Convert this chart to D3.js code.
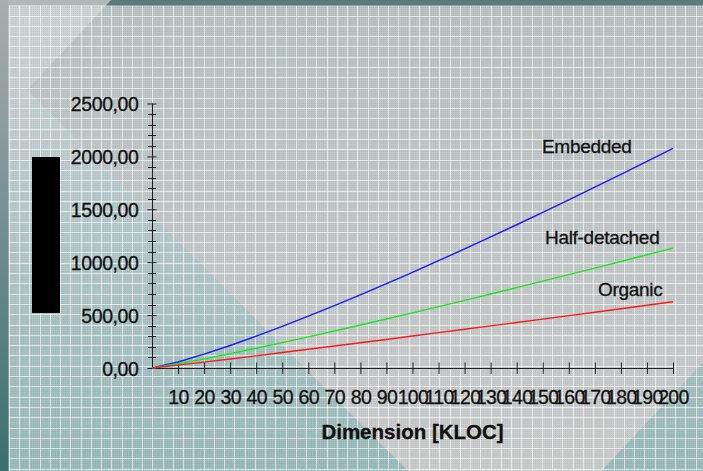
<!DOCTYPE html>
<html>
<head>
<meta charset="utf-8">
<script src="https://cdn.jsdelivr.net/npm/d3@7"></script>
<style>
  html, body { margin: 0; padding: 0; background: #c4caca; }
  svg { display: block; }
  text { font-family: Arial, "Liberation Sans", sans-serif; fill: #111; stroke: #111; stroke-width: 0.3px; }
</style>
</head>
<body>
<svg id="chart" width="703" height="471"></svg>
<script>
// Effort by project size (KLOC) for the three development modes
const kloc = [0, 10, 20, 30, 40, 50, 60, 70, 80, 90, 100, 110, 120, 130, 140, 150, 160, 170, 180, 190, 200];
const organic = [0, 27, 56, 85, 115, 146, 177, 208, 239, 270, 302, 334, 366, 398, 430, 462, 495, 527, 560, 593, 626];
const halfDetached = [0, 40, 86, 135, 187, 240, 294, 350, 406, 463, 521, 580, 639, 699, 760, 821, 882, 944, 1007, 1070, 1133];
const embedded = [0, 57, 131, 213, 301, 394, 490, 589, 692, 797, 904, 1014, 1125, 1239, 1354, 1471, 1589, 1709, 1831, 1953, 2077];

const seriesNames = ["Embedded", "Half-detached", "Organic"];
const seriesValues = [embedded, halfDetached, organic];
const seriesColors = ["#1a1aff", "#1ee61e", "#ff1a1a"];

const xTickValues = [10, 20, 30, 40, 50, 60, 70, 80, 90, 100, 110, 120, 130, 140, 150, 160, 170, 180, 190, 200];
const yTickValues = [0, 500, 1000, 1500, 2000, 2500];
const yMinorStep = 100;
const xTitle = "Dimension [KLOC]";

const W = 703, H = 471;
const svg = d3.select("#chart");
const defs = svg.append("defs");

// ---------- backdrop ----------
const outerGrad = defs.append("linearGradient").attr("id", "outerGrad")
  .attr("x1", 0).attr("y1", 0).attr("x2", 0).attr("y2", 1);
outerGrad.append("stop").attr("offset", "0%").attr("stop-color", "#ced4d4");
outerGrad.append("stop").attr("offset", "45%").attr("stop-color", "#b6c8c8");
outerGrad.append("stop").attr("offset", "100%").attr("stop-color", "#98bab8");

const innerGrad = defs.append("linearGradient").attr("id", "innerGrad")
  .attr("gradientUnits", "userSpaceOnUse")
  .attr("x1", 0).attr("y1", 0).attr("x2", 0).attr("y2", H);
innerGrad.append("stop").attr("offset", "0%").attr("stop-color", "#b8c2c2");
innerGrad.append("stop").attr("offset", "100%").attr("stop-color", "#c9cbcb");

const stripGrad = defs.append("linearGradient").attr("id", "stripGrad")
  .attr("x1", 0).attr("y1", 0).attr("x2", 0).attr("y2", 1);
stripGrad.append("stop").attr("offset", "0%").attr("stop-color", "#a9adad");
stripGrad.append("stop").attr("offset", "100%").attr("stop-color", "#3a6f6f");

// tilted square behind the plot
const L = [27, 90], B = [508, 571];
const a = 800;
const T = [L[0] + a, L[1] - a * 1.07];
const R = [T[0] + (B[0] - L[0]), T[1] + (B[1] - L[1])];
const diamondPts = [L, T, R, B].map(p => p.join(",")).join(" ");

defs.append("clipPath").attr("id", "diamondClip")
  .append("polygon").attr("points", diamondPts);

const dither = defs.append("pattern").attr("id", "dither")
  .attr("patternUnits", "userSpaceOnUse").attr("width", 2).attr("height", 2);
dither.append("rect").attr("width", 1).attr("height", 1).attr("fill", "rgba(255,255,255,0.10)");
dither.append("rect").attr("x", 1).attr("y", 1).attr("width", 1).attr("height", 1).attr("fill", "rgba(0,0,0,0.06)");

const bg = svg.append("g");
bg.append("rect").attr("width", W).attr("height", H).attr("fill", "url(#outerGrad)");
bg.append("polygon").attr("points", diamondPts).attr("fill", "url(#innerGrad)");
bg.append("rect").attr("width", W).attr("height", H).attr("fill", "url(#dither)");

// grid of thin white lines
const grid = bg.append("g").attr("stroke", "#ffffff").attr("stroke-width", 1).attr("stroke-opacity", 0.62);
for (let gx = 8.8; gx < W; gx += 10.25) {
  const px = Math.round(gx) + 0.5;
  grid.append("line").attr("x1", px).attr("x2", px).attr("y1", 0).attr("y2", H);
}
for (let gy = 5.2; gy < H; gy += 10.3) {
  const py = Math.round(gy) + 0.5;
  grid.append("line").attr("y1", py).attr("y2", py).attr("x1", 0).attr("x2", W);
}

// frame strips
bg.append("rect").attr("x", 0).attr("y", 0).attr("width", W).attr("height", 5.5).attr("fill", "#b3b7b7");
bg.append("rect").attr("x", 0).attr("y", 0).attr("width", W).attr("height", 5.5)
  .attr("fill", "#5b7a7a").attr("clip-path", "url(#diamondClip)");
bg.append("rect").attr("x", 0).attr("y", 0).attr("width", 8.5).attr("height", H).attr("fill", "url(#stripGrad)");

// vertical title block
svg.append("rect").attr("x", 32).attr("y", 157).attr("width", 28).attr("height", 156).attr("fill", "#000");

// ---------- scales ----------
const x = d3.scaleLinear().domain([0, 200]).range([152, 673]);
const y = d3.scaleLinear().domain([0, 2500]).range([368, 103.5]);

const fmtComma = d => d3.format(".2f")(d).replace(".", ",");

// ---------- y axis ----------
const yAxisG = svg.append("g").attr("transform", `translate(${x(0)},0)`);
yAxisG.call(d3.axisLeft(y).tickValues(yTickValues).tickFormat(fmtComma).tickSizeOuter(0));
yAxisG.select(".domain").attr("stroke", "#222").attr("d", `M0.5,${y(2500)}V${y(0)}`);
yAxisG.selectAll(".tick line").attr("x1", -4.5).attr("x2", 4.5).attr("stroke", "#222");
yAxisG.selectAll(".tick text")
  .attr("x", -13.5).attr("dy", "0.36em")
  .style("font-size", "19.5px").style("font-family", "Arial, 'Liberation Sans', sans-serif")
  .style("letter-spacing", "-0.4px").attr("fill", "#111");
const yMinor = d3.range(0, 2500 + 1, yMinorStep).filter(v => !yTickValues.includes(v));
yAxisG.selectAll(".minor").data(yMinor).join("line")
  .attr("class", "minor")
  .attr("x1", -4).attr("x2", 4)
  .attr("y1", d => Math.round(y(d)) + 0.5).attr("y2", d => Math.round(y(d)) + 0.5)
  .attr("stroke", "#222");

// ---------- x axis ----------
const xAxisG = svg.append("g").attr("transform", `translate(0,${y(0)})`);
xAxisG.call(d3.axisBottom(x).tickValues(xTickValues).tickFormat(d3.format("d")).tickSizeOuter(0));
xAxisG.select(".domain").attr("stroke", "#222").attr("d", `M${x(0)},0.5H${x(200)}`);
xAxisG.selectAll(".tick line").attr("y1", -5.5).attr("y2", 6).attr("stroke", "#222");
xAxisG.selectAll(".tick text")
  .attr("y", 22).attr("dy", "0.71em")
  .style("font-size", "19.5px").style("font-family", "Arial, 'Liberation Sans', sans-serif")
  .style("letter-spacing", "-0.6px").attr("fill", "#111");

svg.append("text")
  .attr("x", (x(0) + x(200)) / 2).attr("y", 439)
  .attr("text-anchor", "middle")
  .style("font-size", "20.5px").style("font-weight", "bold")
  .text(xTitle);

// ---------- series ----------
const line = d3.line().x((d, i) => x(kloc[i])).y(d => y(d));
svg.append("g").selectAll("path").data(seriesValues).join("path")
  .attr("d", d => line(d))
  .attr("fill", "none")
  .attr("stroke", (d, i) => seriesColors[i])
  .attr("stroke-width", 1.4);

// series names near the line ends
const labelPos = [[542, 153], [545, 243.5], [598, 296]];
svg.append("g").selectAll("text").data(seriesNames).join("text")
  .attr("x", (d, i) => labelPos[i][0]).attr("y", (d, i) => labelPos[i][1])
  .style("font-size", "19px")
  .style("letter-spacing", "-0.3px")
  .text(d => d);
</script>
</body>
</html>
